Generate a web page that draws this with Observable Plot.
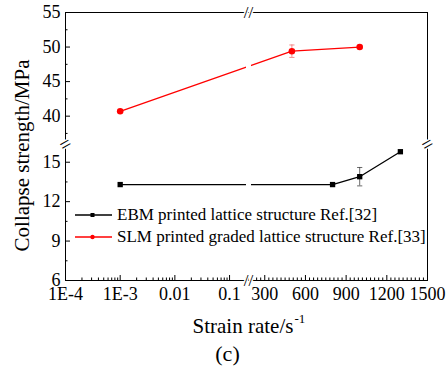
<!DOCTYPE html>
<html><head><meta charset="utf-8">
<script src="https://cdn.jsdelivr.net/npm/d3@7"></script>
<script src="https://cdn.jsdelivr.net/npm/@observablehq/plot@0.6"></script>
<style>
body{margin:0;background:#fff;}
#wrap{position:relative;width:447px;height:372px;font-family:'Liberation Serif','Tinos','DejaVu Serif',serif;}
#wrap svg text{font-family:'Liberation Serif','Tinos','DejaVu Serif',serif;}
.leg{position:absolute;left:75px;font-size:17px;display:flex;align-items:center;height:20px;white-space:nowrap;color:#000;}
.leg svg{margin-right:5px;}
</style></head><body><div id="wrap"></div>
<script>
// ---- data ----
const seriesNames = ["EBM printed lattice structure Ref.[32]", "SLM printed graded lattice structure Ref.[33]"];
const seriesColors = ["#000000", "#ff0000"];
const ebmRate = [0.001, 800, 1000, 1300];
const ebmStrength = [13.3, 13.3, 13.9, 15.8];
const ebmError = [0, 0, 0.7, 0];
const slmRate = [0.001, 500, 1000];
const slmStrength = [40.7, 49.4, 50.0];
const slmError = [0, 0.9, 0.2];
const xLogTicks = [1e-4, 1e-3, 0.01, 0.1];
const xLogLabels = ["1E-4", "1E-3", "0.01", "0.1"];
const xLinTicks = [300, 600, 900, 1200, 1500];
const yLowTicks = [6, 9, 12, 15];
const yHighTicks = [40, 45, 50, 55];
const xLabel = "Strain rate/s", xLabelSup = "-1", yLabel = "Collapse strength/MPa", caption = "(c)";

// ---- broken-axis scales (library scales) ----
const xb = 0.5055, yb = 0.5075;
const sxLog = Plot.scale({x: {type: "log", domain: [1e-4, 0.222], range: [0, xb]}});
const sxLin = Plot.scale({x: {type: "linear", domain: [180, 1500], range: [xb, 1]}});
const syLow = Plot.scale({y: {type: "linear", domain: [6, 16.35], range: [0, yb]}});
const syHigh = Plot.scale({y: {type: "linear", domain: [35.9, 55], range: [yb, 1]}});
const fx = v => v < 1 ? sxLog.apply(v) : sxLin.apply(v);
const fy = v => v < 25 ? syLow.apply(v) : syHigh.apply(v);

const ebm = ebmRate.map((r, i) => ({r, v: ebmStrength[i], e: ebmError[i]}));
const slm = slmRate.map((r, i) => ({r, v: slmStrength[i], e: slmError[i]}));

// ticks
const xMajor = [...xLogTicks.map(fx), ...xLinTicks.map(fx)];
const xMajorLab = new Map(xMajor.map((p, i) => [p, [...xLogLabels, ...xLinTicks.map(String)][i]]));
const xMinorVals = [];
for (const d of [1e-4, 1e-3, 1e-2, 1e-1]) for (let k = 2; k <= 9; k++) { const v = k * d; if (v <= 0.222) xMinorVals.push(v); }
for (const v of d3.range(180, 1501, 30)) if (!xLinTicks.includes(v)) xMinorVals.push(v);
const xMinor = xMinorVals.map(fx);
const yMajorVals = [...yLowTicks, ...yHighTicks];
const yMajor = yMajorVals.map(fy);
const yMajorLab = new Map(yMajor.map((p, i) => [p, String(yMajorVals[i])]));
const yMinor = [7.5, 10.5, 13.5, 37.5, 42.5, 47.5, 52.5].map(fy);

const cap = {draw(ctx, size) { ctx.moveTo(-2.6, 0); ctx.lineTo(2.6, 0); }};
const FONT = "'Liberation Serif', 'Tinos', 'DejaVu Serif', serif";

const chart = Plot.plot({
  width: 447, height: 372,
  marginLeft: 65, marginRight: 20, marginTop: 12, marginBottom: 92,
  style: {fontFamily: FONT, fontSize: "18px", background: "white", color: "black"},
  x: {type: "linear", domain: [0, 1], axis: null},
  y: {type: "linear", domain: [0, 1], axis: null},
  marks: [
    Plot.line(ebm, {x: d => fx(d.r), y: d => fy(d.v), stroke: seriesColors[0], strokeWidth: 1.3}),
    Plot.line(slm, {x: d => fx(d.r), y: d => fy(d.v), stroke: seriesColors[1], strokeWidth: 1.3}),
    Plot.ruleX([xb], {stroke: "white", strokeWidth: 5}),
    // error bars
    Plot.ruleX(ebm.filter(d => d.e > 0), {x: d => fx(d.r), y1: d => fy(d.v - d.e), y2: d => fy(d.v + d.e), stroke: "#444", strokeWidth: 0.8}),
    Plot.dot(ebm.filter(d => d.e > 0), {x: d => fx(d.r), y: d => fy(d.v - d.e), symbol: cap, stroke: "#444", strokeWidth: 0.8}),
    Plot.dot(ebm.filter(d => d.e > 0), {x: d => fx(d.r), y: d => fy(d.v + d.e), symbol: cap, stroke: "#444", strokeWidth: 0.8}),
    Plot.ruleX(slm.filter(d => d.e > 0), {x: d => fx(d.r), y1: d => fy(d.v - d.e), y2: d => fy(d.v + d.e), stroke: "#f07070", strokeWidth: 0.8}),
    Plot.dot(slm.filter(d => d.e > 0), {x: d => fx(d.r), y: d => fy(d.v - d.e), symbol: cap, stroke: "#f07070", strokeWidth: 0.8}),
    Plot.dot(slm.filter(d => d.e > 0), {x: d => fx(d.r), y: d => fy(d.v + d.e), symbol: cap, stroke: "#f07070", strokeWidth: 0.8}),
    // markers
    Plot.dot(ebm, {x: d => fx(d.r), y: d => fy(d.v), symbol: "square", r: 3, fill: seriesColors[0]}),
    Plot.dot(slm, {x: d => fx(d.r), y: d => fy(d.v), symbol: "circle", r: 3.3, fill: seriesColors[1]}),
    Plot.frame({stroke: "black", strokeWidth: 1}),
    // axes
    Plot.axisX(xMajor, {anchor: "bottom", tickSize: -5, tickPadding: 12, tickFormat: v => xMajorLab.get(v), fontSize: 18, label: null, stroke: "black", fontFamily: FONT}),
    Plot.axisX(xMinor, {anchor: "bottom", tickSize: -2.5, tickFormat: () => "", label: null}),
    Plot.axisY(yMajor, {anchor: "left", tickSize: -5, tickPadding: 10, tickFormat: v => yMajorLab.get(v), fontSize: 18, label: null, fontFamily: FONT}),
    Plot.axisY(yMinor, {anchor: "left", tickSize: -2.5, tickFormat: () => "", label: null}),
    // break marks
    Plot.text(["//"], {x: xb, y: 1, fontSize: 17, fill: "black", stroke: "white", strokeWidth: 3, fontFamily: FONT}),
    Plot.text(["//"], {x: xb, y: 0, fontSize: 17, fill: "black", stroke: "white", strokeWidth: 3, fontFamily: FONT}),
    Plot.text(["="], {x: 0, y: yb, fontSize: 20, rotate: -30, fill: "black", stroke: "white", strokeWidth: 3, fontFamily: FONT}),
    Plot.text(["="], {x: 1, y: yb, fontSize: 20, rotate: -30, fill: "black", stroke: "white", strokeWidth: 3, fontFamily: FONT}),
    // titles
    Plot.text([yLabel], {frameAnchor: "left", textAnchor: "middle", lineAnchor: "middle", rotate: -90, dx: -43, dy: 9, fontSize: 21, fill: "black", fontFamily: FONT}),
    Plot.text([xLabel], {frameAnchor: "bottom", textAnchor: "start", lineAnchor: "middle", dx: -54, dy: 46, fontSize: 21, fill: "black", fontFamily: FONT}),
    Plot.text([xLabelSup], {frameAnchor: "bottom", textAnchor: "start", lineAnchor: "middle", dx: 48, dy: 38, fontSize: 13, fill: "black", fontFamily: FONT}),
    Plot.text([caption], {frameAnchor: "bottom", lineAnchor: "middle", dx: -19, dy: 73, fontSize: 22, fill: "black", fontFamily: FONT})
  ]
});
const wrap = document.getElementById("wrap");
wrap.appendChild(chart);

// legend
const legTops = [205, 227];
seriesNames.forEach((name, i) => {
  const row = document.createElement("div");
  row.className = "leg";
  row.style.top = legTops[i] + "px";
  const marker = i === 0
    ? `<rect x="15.5" y="3" width="4" height="4" fill="${seriesColors[i]}"/>`
    : `<circle cx="17.5" cy="5" r="2.2" fill="${seriesColors[i]}"/>`;
  row.innerHTML = `<svg width="37" height="10"><line x1="0" x2="37" y1="5" y2="5" stroke="${seriesColors[i]}" stroke-width="1.3"/>${marker}</svg><span>${name}</span>`;
  wrap.appendChild(row);
});
</script></body></html>
